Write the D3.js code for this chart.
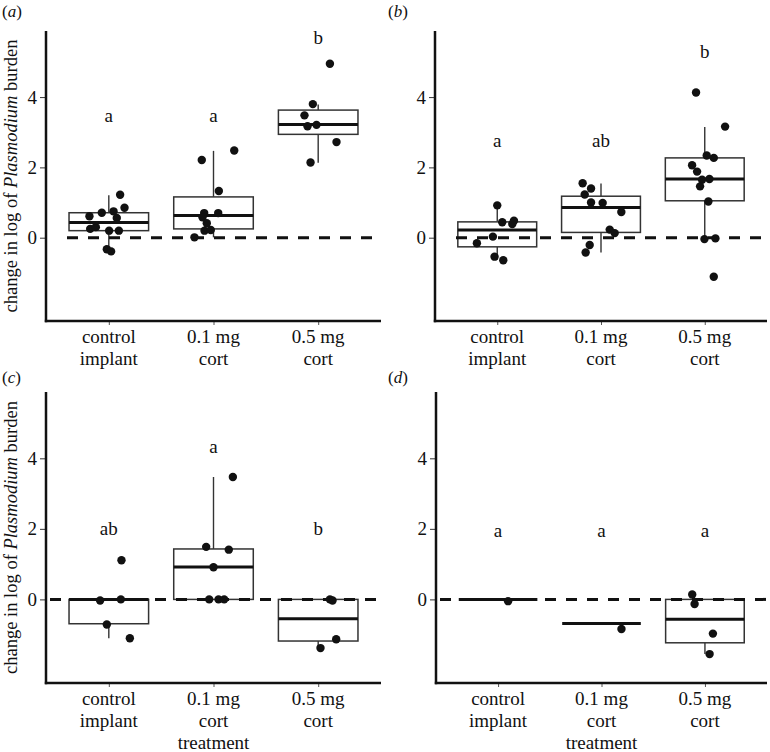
<!DOCTYPE html>
<html>
<head>
<meta charset="utf-8">
<script src="https://cdn.jsdelivr.net/npm/d3@7/dist/d3.min.js"></script>
<style>
  html, body { margin: 0; padding: 0; background: #fff; }
  svg { display: block; }
  text { font-family: "Liberation Serif", "Times New Roman", serif; fill: #111; }
</style>
</head>
<body>
<svg id="chart" width="770" height="752"></svg>
<script>
// ---------------- DATA ----------------
const groups = ["control implant", "0.1 mg cort", "0.5 mg cort"];
const labelsTop = [["control", "implant"], ["0.1 mg", "cort"], ["0.5 mg", "cort"]];
const labelsBottom = [["control", "implant"], ["0.1 mg", "cort", "treatment"], ["0.5 mg", "cort"]];
const yTicks = [0, 2, 4];
const yDomain = [-2.37, 5.88];

// panel (a)
const aValues = [
  [0.61, 0.71, 0.75, 1.22, 0.85, 0.56, 0.25, 0.30, 0.20, 0.20, -0.33, -0.39],
  [2.21, 2.48, 1.33, 0.70, 0.70, 0.58, 0.41, 0.20, 0.22, 0.01],
  [4.95, 3.80, 3.48, 3.17, 3.21, 2.72, 2.14]
];
const aJitter = [
  [-0.185, -0.067, 0.045, 0.108, 0.150, 0.076, -0.178, -0.124, 0.003, 0.096, -0.019, 0.022],
  [-0.112, 0.198, 0.051, -0.089, 0.045, -0.105, -0.064, -0.086, -0.026, -0.182],
  [0.112, -0.051, -0.131, -0.102, -0.016, 0.175, -0.073]
];
const aBoxes = [
  [-0.39, 0.20, 0.43, 0.71, 1.21],
  [0.01, 0.25, 0.63, 1.16, 2.47],
  [2.13, 2.94, 3.22, 3.63, 3.79]
];
const aLetters = ["a", "a", "b"];
const aLetterY = [3.30, 3.30, 5.50];

// panel (b)
const bValues = [
  [0.92, 0.44, 0.48, 0.39, -0.16, 0.03, -0.54, -0.64],
  [1.55, 1.40, 1.23, 1.00, 0.99, 0.73, 0.23, 0.13, -0.21, -0.42],
  [4.13, 3.16, 2.34, 2.27, 2.06, 1.88, 1.67, 1.65, 1.46, 1.03, -0.04, -0.02, -1.11]
];
const bJitter = [
  [0.000, 0.048, 0.161, 0.145, -0.196, -0.042, -0.026, 0.058],
  [-0.177, -0.096, -0.157, -0.096, 0.016, 0.196, 0.084, 0.132, -0.109, -0.148],
  [-0.084, 0.196, 0.019, 0.087, -0.122, -0.074, 0.045, -0.026, -0.045, 0.035, -0.003, 0.103, 0.087]
];
const bBoxes = [
  [-0.63, -0.26, 0.22, 0.45, 0.93],
  [-0.42, 0.15, 0.86, 1.18, 1.54],
  [-0.04, 1.05, 1.67, 2.27, 3.15]
];
const bLetters = ["a", "ab", "b"];
const bLetterY = [2.57, 2.57, 5.12];

// panel (c)
const cValues = [
  [1.11, -0.03, 0.00, -0.71, -1.10],
  [3.47, 1.49, 1.41, 0.91, 0.00, 0.00, 0.00],
  [0.00, -0.03, -1.13, -1.38]
];
const cJitter = [
  [0.121, -0.083, 0.115, -0.019, 0.201],
  [0.185, -0.070, 0.146, 0.000, -0.041, 0.048, 0.102],
  [0.112, 0.137, 0.172, 0.022]
];
const cBoxes = [
  [-1.10, -0.69, 0.00, 0.00, 0.00],
  [0.00, 0.00, 0.92, 1.43, 3.47],
  [-1.38, -1.18, -0.55, 0.00, 0.00]
];
const cLetters = ["ab", "a", "b"];
const cLetterY = [1.84, 4.14, 1.84];

// panel (d)
const dValues = [
  [-0.05],
  [-0.84],
  [0.14, -0.13, -0.97, -1.55]
];
const dJitter = [
  [0.097],
  [0.193],
  [-0.123, -0.100, 0.077, 0.045]
];
const dBoxes = [
  [0.00, 0.00, 0.00, 0.00, 0.00],
  [-0.68, -0.68, -0.68, -0.68, -0.68],
  [-1.55, -1.23, -0.56, 0.00, 0.00]
];
const dLetters = ["a", "a", "a"];
const dLetterY = [1.76, 1.76, 1.76];

// ---------------- LAYOUT ----------------
const panels = [
  { tag: "a", values: aValues, jitter: aJitter, boxes: aBoxes, letters: aLetters, letterY: aLetterY, labels: labelsTop,
    left: 46, right: 381, top: 31, bottom: 321, ylab: true, tagX: 2, tagY: 17, dashStart: 21 },
  { tag: "b", values: bValues, jitter: bJitter, boxes: bBoxes, letters: bLetters, letterY: bLetterY, labels: labelsTop,
    left: 435, right: 767, top: 31, bottom: 321, ylab: false, tagX: 388, tagY: 17, dashStart: 21 },
  { tag: "c", values: cValues, jitter: cJitter, boxes: cBoxes, letters: cLetters, letterY: cLetterY, labels: labelsBottom,
    left: 46, right: 381, top: 392, bottom: 683, ylab: true, tagX: 2, tagY: 383, dashStart: 4 },
  { tag: "d", values: dValues, jitter: dJitter, boxes: dBoxes, letters: dLetters, letterY: dLetterY, labels: labelsBottom,
    left: 436, right: 767, top: 392, bottom: 683, ylab: false, tagX: 388, tagY: 383, dashStart: 4 }
];

const svg = d3.select("#chart");
const boxWidth = 0.76;

panels.forEach(p => {
  const g = svg.append("g");
  const x = d3.scaleLinear().domain([0.4, 3.6]).range([p.left, p.right]);
  const y = d3.scaleLinear().domain(yDomain).range([p.bottom, p.top]);

  // boxes
  groups.forEach((grp, i) => {
    const [lo, q1, med, q3, hi] = p.boxes[i];
    const cx = x(i + 1);
    const x0 = x(i + 1 - boxWidth / 2), x1 = x(i + 1 + boxWidth / 2);
    const bg = g.append("g");
    if (hi > q3) bg.append("line").attr("x1", cx).attr("x2", cx).attr("y1", y(q3)).attr("y2", y(hi))
      .attr("stroke", "#333").attr("stroke-width", 1.4);
    if (lo < q1) bg.append("line").attr("x1", cx).attr("x2", cx).attr("y1", y(q1)).attr("y2", y(lo))
      .attr("stroke", "#333").attr("stroke-width", 1.4);
    if (q3 > q1) {
      bg.append("rect").attr("x", x0).attr("y", y(q3)).attr("width", x1 - x0).attr("height", y(q1) - y(q3))
        .attr("fill", "#fff").attr("stroke", "#333").attr("stroke-width", 1.5);
    }
    bg.append("line").attr("x1", x0).attr("x2", x1).attr("y1", y(med)).attr("y2", y(med))
      .attr("stroke", "#111").attr("stroke-width", 3);
  });

  // dashed zero line
  g.append("line").attr("x1", p.left + p.dashStart).attr("x2", p.right)
    .attr("y1", y(0)).attr("y2", y(0))
    .attr("stroke", "#111").attr("stroke-width", 3).attr("stroke-dasharray", "11,10");

  // points
  groups.forEach((grp, i) => {
    p.values[i].forEach((v, k) => {
      g.append("circle").attr("cx", x(i + 1 + p.jitter[i][k])).attr("cy", y(v)).attr("r", 4.2)
        .attr("fill", "#111");
    });
  });

  // letters
  groups.forEach((grp, i) => {
    g.append("text").attr("x", x(i + 1)).attr("y", y(p.letterY[i]))
      .attr("text-anchor", "middle").attr("font-size", 19).text(p.letters[i]);
  });

  // y axis
  const yAxis = d3.axisLeft(y).tickValues(yTicks).tickSize(6).tickPadding(3).tickFormat(d3.format("d"));
  const ya = g.append("g").attr("transform", `translate(${p.left},0)`).call(yAxis);
  ya.select(".domain").remove();
  ya.selectAll(".tick line").attr("stroke", "#333").attr("stroke-width", 1);
  ya.selectAll(".tick text").attr("font-size", 19).attr("fill", "#111")
    .style("font-family", "'Liberation Serif', serif");
  // x axis
  const xAxis = d3.axisBottom(x).tickValues([1, 2, 3]).tickSize(4).tickFormat("");
  const xa = g.append("g").attr("transform", `translate(0,${p.bottom})`).call(xAxis);
  xa.select(".domain").remove();
  xa.selectAll(".tick line").attr("stroke", "#555").attr("stroke-width", 1);

  // axis lines
  g.append("line").attr("x1", p.left).attr("x2", p.left).attr("y1", p.top).attr("y2", p.bottom + 1.2)
    .attr("stroke", "#111").attr("stroke-width", 2.5);
  g.append("line").attr("x1", p.left - 1.2).attr("x2", p.right).attr("y1", p.bottom).attr("y2", p.bottom)
    .attr("stroke", "#111").attr("stroke-width", 2.5);

  // category labels
  groups.forEach((grp, i) => {
    const t = g.append("text").attr("x", x(i + 1)).attr("y", p.bottom + 22)
      .attr("text-anchor", "middle").attr("font-size", 19);
    p.labels[i].forEach((line, j) => {
      t.append("tspan").attr("x", x(i + 1)).attr("dy", j === 0 ? 0 : 22).text(line);
    });
  });

  // y label
  if (p.ylab) {
    const cy = (p.top + p.bottom) / 2;
    const t = g.append("text").attr("transform", `translate(17,${cy}) rotate(-90)`)
      .attr("text-anchor", "middle").attr("font-size", 18.5);
    t.append("tspan").text("change in log of ");
    t.append("tspan").attr("font-style", "italic").text("Plasmodium");
    t.append("tspan").text(" burden");
  }

  // panel tag
  const tg = g.append("text").attr("x", p.tagX).attr("y", p.tagY).attr("font-size", 17);
  tg.append("tspan").text("(");
  tg.append("tspan").attr("font-style", "italic").text(p.tag);
  tg.append("tspan").text(")");
});
</script>
</body>
</html>
